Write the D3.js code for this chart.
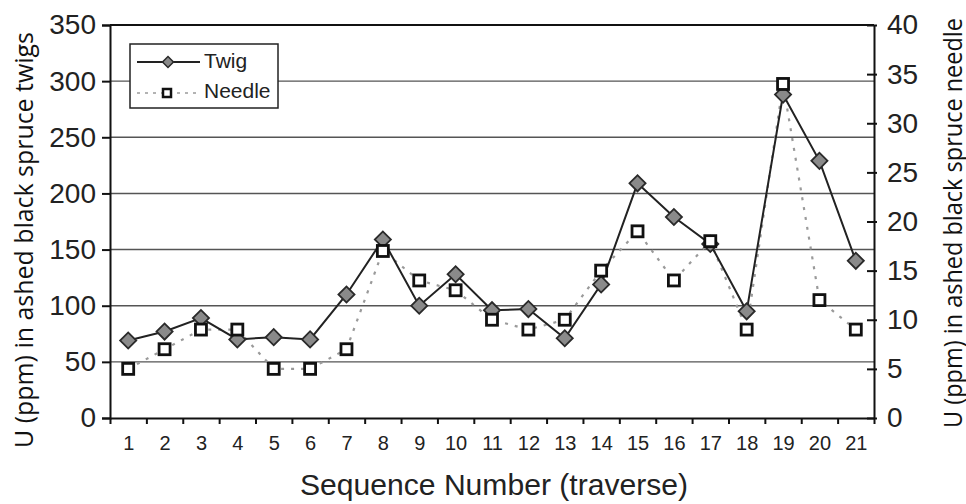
<!DOCTYPE html>
<html>
<head>
<meta charset="utf-8">
<script src="https://cdn.jsdelivr.net/npm/d3@7"></script>
<style>
  body { margin: 0; background: #fff; }
  svg { display: block; }
</style>
</head>
<body>
<svg width="966" height="504"></svg>
<script>
// data
const sequence = [1, 2, 3, 4, 5, 6, 7, 8, 9, 10, 11, 12, 13, 14, 15, 16, 17, 18, 19, 20, 21];
const twig = [69, 77, 89, 70, 72, 70, 110, 159, 100, 128, 96, 97, 71, 119, 209, 179, 155, 95, 288, 229, 140];
const needle = [5, 7, 9, 9, 5, 5, 7, 17, 14, 13, 10, 9, 10, 15, 19, 14, 18, 9, 34, 12, 9];
const leftTicks = [0, 50, 100, 150, 200, 250, 300, 350];
const rightTicks = [0, 5, 10, 15, 20, 25, 30, 35, 40];

const svg = d3.select("svg");
const margin = { top: 25, right: 92, bottom: 86, left: 110 };
const width = +svg.attr("width");
const height = +svg.attr("height");
const innerWidth = width - margin.left - margin.right;
const innerHeight = height - margin.top - margin.bottom;

const tickFont = "'Liberation Sans', Arial, Helvetica, sans-serif";
const titleFont = "'Open Sans', 'Noto Sans', sans-serif";

const xScale = d3.scaleLinear()
    .domain([0.5, sequence.length + 0.5])
    .range([0, innerWidth]);

const yLeft = d3.scaleLinear().domain([0, 350]).range([innerHeight, 0]);
const yRight = d3.scaleLinear().domain([0, 40]).range([innerHeight, 0]);

const g = svg.append("g")
    .attr("transform", `translate(${margin.left},${margin.top})`);

// horizontal grid lines
g.append("g")
    .selectAll("line")
    .data(leftTicks.filter(d => d > 0))
    .enter()
    .append("line")
    .attr("x1", 0)
    .attr("x2", innerWidth)
    .attr("y1", d => yLeft(d))
    .attr("y2", d => yLeft(d))
    .attr("stroke", d => d === 350 ? "#111" : "#555")
    .attr("stroke-width", d => d === 350 ? 2 : 1.4);

// left axis
const leftAxis = g.append("g")
    .call(d3.axisLeft(yLeft).tickValues(leftTicks).tickSize(8).tickPadding(6));
leftAxis.selectAll("text")
    .attr("font-family", tickFont)
    .attr("font-size", 28)
    .attr("fill", "#222");

// right axis
const rightAxis = g.append("g")
    .attr("transform", `translate(${innerWidth},0)`)
    .call(d3.axisRight(yRight).tickValues(rightTicks).tickSizeInner(-7).tickSizeOuter(0).tickPadding(13));
rightAxis.selectAll(".tick line").attr("x1", 3);
rightAxis.selectAll("text")
    .attr("font-family", tickFont)
    .attr("font-size", 28)
    .attr("fill", "#222");

// bottom axis: tick marks between categories, labels at the centres
g.append("g")
    .attr("transform", `translate(0,${innerHeight})`)
    .call(d3.axisBottom(xScale)
        .tickValues(d3.range(0.5, sequence.length + 1, 1))
        .tickFormat("")
        .tickSize(6)
        .tickSizeOuter(0));

const bottomLabels = g.append("g")
    .attr("transform", `translate(0,${innerHeight})`)
    .call(d3.axisBottom(xScale)
        .tickValues(sequence)
        .tickFormat(d3.format("d"))
        .tickSize(0)
        .tickPadding(18));
bottomLabels.select(".domain").remove();
bottomLabels.selectAll("text")
    .attr("font-family", tickFont)
    .attr("font-size", 20)
    .attr("fill", "#222");

svg.selectAll(".domain").attr("stroke", "#111").attr("stroke-width", 2);
svg.selectAll(".tick line").attr("stroke", "#111").attr("stroke-width", 2);

// needle series (right scale), dotted line
const needleLine = d3.line()
    .x((d, i) => xScale(sequence[i]))
    .y(d => yRight(d));

g.append("path")
    .datum(needle)
    .attr("d", needleLine)
    .attr("fill", "none")
    .attr("stroke", "#9a9a9a")
    .attr("stroke-width", 2.2)
    .attr("stroke-dasharray", "3,7");

// twig series (left scale), solid line
const twigLine = d3.line()
    .x((d, i) => xScale(sequence[i]))
    .y(d => yLeft(d));

g.append("path")
    .datum(twig)
    .attr("d", twigLine)
    .attr("fill", "none")
    .attr("stroke", "#222")
    .attr("stroke-width", 2);

const diamond = d3.symbol().type(d3.symbolSquare).size(130);

g.append("g")
    .selectAll("path")
    .data(twig)
    .enter()
    .append("path")
    .attr("d", diamond)
    .attr("transform", (d, i) => `translate(${xScale(sequence[i])},${yLeft(d)}) rotate(45)`)
    .attr("fill", "#8a8a8a")
    .attr("stroke", "#2a2a2a")
    .attr("stroke-width", 1.8);

g.append("g")
    .selectAll("rect")
    .data(needle)
    .enter()
    .append("rect")
    .attr("x", (d, i) => xScale(sequence[i]) - 5.5)
    .attr("y", d => yRight(d) - 5.5)
    .attr("width", 11)
    .attr("height", 11)
    .attr("fill", "#fff")
    .attr("stroke", "#111")
    .attr("stroke-width", 2.8);

// legend
const legend = svg.append("g").attr("transform", "translate(130,44)");
legend.append("rect")
    .attr("width", 148)
    .attr("height", 64)
    .attr("fill", "#fff")
    .attr("stroke", "#222")
    .attr("stroke-width", 1.5);

legend.append("line")
    .attr("x1", 7).attr("x2", 70).attr("y1", 18).attr("y2", 18)
    .attr("stroke", "#222").attr("stroke-width", 2);
legend.append("path")
    .attr("d", d3.symbol().type(d3.symbolSquare).size(60))
    .attr("transform", "translate(38,18) rotate(45)")
    .attr("fill", "#8a8a8a")
    .attr("stroke", "#2a2a2a")
    .attr("stroke-width", 1.5);
legend.append("text")
    .attr("x", 74).attr("y", 24)
    .attr("font-family", tickFont)
    .attr("font-size", 21)
    .attr("fill", "#222")
    .text("Twig");

legend.append("line")
    .attr("x1", 7).attr("x2", 70).attr("y1", 49).attr("y2", 49)
    .attr("stroke", "#9a9a9a").attr("stroke-width", 1.5)
    .attr("stroke-dasharray", "3,5");
legend.append("rect")
    .attr("x", 33).attr("y", 45).attr("width", 8).attr("height", 8)
    .attr("fill", "#fff").attr("stroke", "#111").attr("stroke-width", 2.5);
legend.append("text")
    .attr("x", 74).attr("y", 54)
    .attr("font-family", tickFont)
    .attr("font-size", 21)
    .attr("fill", "#222")
    .text("Needle");

// axis titles
svg.append("text")
    .attr("x", 494)
    .attr("y", 495)
    .attr("text-anchor", "middle")
    .attr("font-family", tickFont)
    .attr("font-size", 30)
    .attr("textLength", 388)
    .attr("lengthAdjust", "spacingAndGlyphs")
    .attr("fill", "#222")
    .text("Sequence Number (traverse)");

svg.append("text")
    .attr("transform", "translate(33,240) rotate(-90)")
    .attr("text-anchor", "middle")
    .attr("font-family", titleFont)
    .attr("font-size", 25)
    .attr("textLength", 416)
    .attr("lengthAdjust", "spacingAndGlyphs")
    .attr("fill", "#111")
    .text("U (ppm) in ashed black spruce twigs");

svg.append("text")
    .attr("transform", "translate(962,223) rotate(-90)")
    .attr("text-anchor", "middle")
    .attr("font-family", titleFont)
    .attr("font-size", 25)
    .attr("textLength", 410)
    .attr("lengthAdjust", "spacingAndGlyphs")
    .attr("fill", "#111")
    .text("U (ppm) in ashed black spruce needle");
</script>
</body>
</html>
